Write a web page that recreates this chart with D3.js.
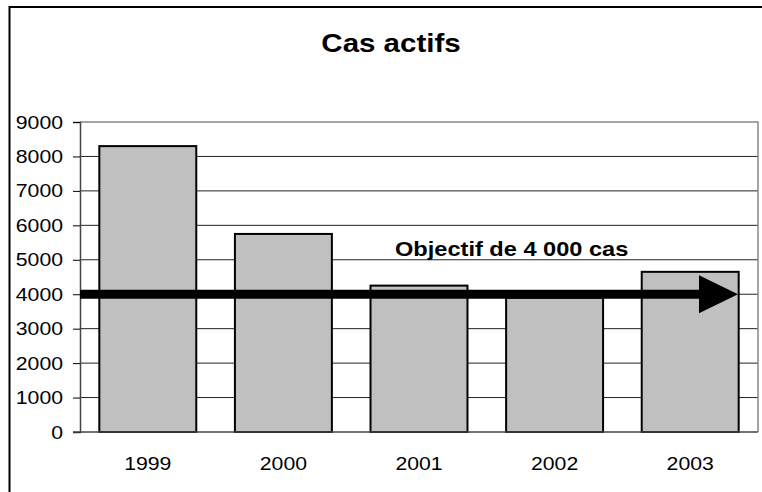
<!DOCTYPE html>
<html><head><meta charset="utf-8">
<script src="https://cdn.jsdelivr.net/npm/d3@7"></script>
<style>body{margin:0;background:#fff}svg{display:block}text{font-family:Arial,"Liberation Sans",sans-serif;fill:#000}</style>
</head><body>
<svg id="c" width="762" height="492"></svg>
<script>
const categories = ["1999","2000","2001","2002","2003"];
const values = [8300, 5750, 4250, 3900, 4650];
const yTicks = [0,1000,2000,3000,4000,5000,6000,7000,8000,9000];
const target = 4000;
const title = "Cas actifs";
const targetLabel = "Objectif de 4 000 cas";

const svg = d3.select("#c");
const SX = 1.18;
const W = 762, H = 492;
const m = {left:80, right:4, top:122, bottom:60};
const x = d3.scaleBand().domain(categories).range([m.left, W - m.right]).paddingInner(0.285).paddingOuter(0.1425);
const y = d3.scaleLinear().domain([0, 9000]).range([H - m.bottom, m.top]);

// outer frame
svg.append("rect").attr("x",9.5).attr("y",7).attr("width",800).attr("height",600)
  .attr("fill","none").attr("stroke","#000").attr("stroke-width",2);

function txt(xp, yp, s, size, weight, anchor){
  svg.append("text").attr("transform",`translate(${xp},${yp}) scale(${SX},1)`)
    .attr("text-anchor",anchor).attr("font-size",size).attr("font-weight",weight).text(s);
}

// title
txt((W)/2 + 10, 52, title, 25, "bold", "middle");

// gridlines
svg.append("g").selectAll("line").data(yTicks.filter(d=>d>0 && d<9000)).join("line")
  .attr("x1",m.left).attr("x2",W-m.right).attr("y1",d=>y(d)).attr("y2",d=>y(d))
  .attr("stroke","#222").attr("stroke-width",1);
// plot frame (gray top/right)
svg.append("path").attr("d",`M${m.left},${y(9000)}H${W-m.right}V${y(0)}`)
  .attr("fill","none").attr("stroke","#888").attr("stroke-width",1.5);

// bars
svg.append("g").selectAll("rect").data(values).join("rect")
  .attr("x",(d,i)=>x(categories[i])).attr("width",x.bandwidth())
  .attr("y",d=>y(d)).attr("height",d=>y(0)-y(d))
  .attr("fill","#c0c0c0").attr("stroke","#000").attr("stroke-width",2);

// axes
const ya = svg.append("g").attr("transform",`translate(${m.left},0)`)
  .call(d3.axisLeft(y).tickValues(yTicks).tickSize(7).tickFormat(d3.format("d")));
ya.select(".domain").attr("stroke","#444").attr("stroke-width",1.5);
ya.selectAll(".tick line").attr("stroke","#000");
ya.selectAll(".tick text").remove();
yTicks.forEach(t => txt(m.left - 17, y(t) + 6.5, String(t), 18, "normal", "end"));

svg.append("line").attr("x1",m.left-7).attr("x2",W-m.right).attr("y1",y(0)).attr("y2",y(0))
  .attr("stroke","#444").attr("stroke-width",1.5);
categories.forEach(c => txt(x(c)+x.bandwidth()/2, y(0)+38, c, 18, "normal", "middle"));

// target arrow
const ty = y(target);
const tipX = W - m.right - 20, headLen = 39, headHalf = 19;
svg.append("line").attr("x1",m.left).attr("x2",tipX-headLen+2).attr("y1",ty).attr("y2",ty)
  .attr("stroke","#000").attr("stroke-width",9);
svg.append("path").attr("d",`M${tipX-headLen},${ty-headHalf}L${tipX},${ty}L${tipX-headLen},${ty+headHalf}Z`)
  .attr("fill","#000");
txt(395, ty - 38, targetLabel, 20, "bold", "start");
</script>
</body></html>
